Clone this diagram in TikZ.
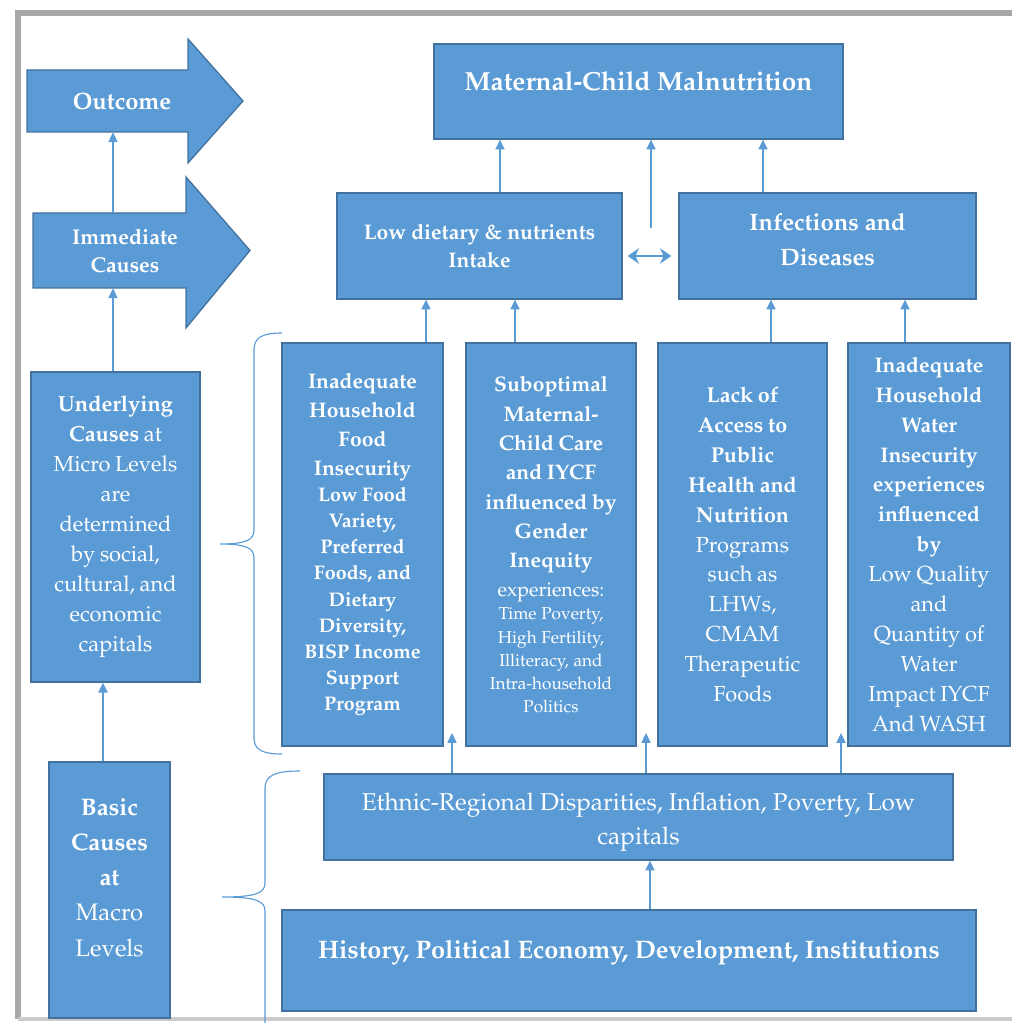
\documentclass[tikz,border=0pt]{standalone}
\usepackage[T1]{fontenc}
\usepackage{mathpazo}
\usepackage{xcolor}
\usetikzlibrary{arrows.meta, calc}

\definecolor{boxblue}{HTML}{5B9BD5}
\definecolor{boxedge}{HTML}{41719C}
\definecolor{frameshade}{HTML}{A8A8A8}

\tikzset{
  cause/.style={draw=boxedge, fill=boxblue, line width=0.9pt, text=white, align=center, inner sep=1pt},
  arrowtext/.style={text=white, align=center, inner sep=0pt},
  link/.style={boxblue, line width=1pt, -{Triangle[length=7pt,width=6.5pt]}},
  brace/.style={boxblue, line width=0.8pt},
}

\begin{document}
\begin{tikzpicture}[x=0.025cm, y=-0.025cm]
  \useasboundingbox (0,0) rectangle (1012,1023);

  % page frame
  \draw[frameshade, line width=4pt] (18,1019) -- (18,13) -- (1012,13);
  \draw[frameshade!60, line width=3pt] (18,1019) -- (1012,1019);

  % level arrows on the left
  \filldraw[draw=boxedge, fill=boxblue, line width=0.9pt]
    (27,70) -- (188,70) -- (188,39) -- (243,101) -- (188,163) -- (188,132) -- (27,132) -- cycle;
  \node[arrowtext, font=\bfseries\fontsize{16.8}{20}\selectfont,
        minimum width=2.6cm, minimum height=1.55cm] (outcome) at (122,101) {Outcome};

  \filldraw[draw=boxedge, fill=boxblue, line width=0.9pt]
    (33,213) -- (186,213) -- (186,177) -- (250,250.5) -- (186,328) -- (186,288) -- (33,288) -- cycle;
  \node[arrowtext, font=\bfseries\fontsize{15.2}{20}\selectfont,
        minimum width=2.7cm, minimum height=1.875cm] (immediate) at (125,250.5) {Immediate\\Causes};

  \node[cause, minimum width=4.225cm, minimum height=7.75cm, text width=4.05cm] (underlying) at (115.5,527)
    {\fontsize{15.5}{21.3}\selectfont\textbf{Underlying}\\ \textbf{Causes} at\\ Micro Levels\\ are\\ determined\\ by social,\\ cultural, and\\ economic\\ capitals\par};

  \node[cause, minimum width=3.025cm, minimum height=6.4cm, text width=2.9cm] (basic) at (109.5,890)
    {\fontsize{17}{25}\selectfont\textbf{Basic}\\ \textbf{Causes}\\ \textbf{at}\\ Macro\\ Levels\rule[-18pt]{0pt}{0pt}\par};

  % outcome and immediate causes
  \node[cause, font=\bfseries\fontsize{18.6}{22}\selectfont, text depth=15pt,
        minimum width=10.225cm, minimum height=2.375cm] (maternal) at (638.5,91.5) {Maternal-Child Malnutrition};
  \node[cause, font=\bfseries\fontsize{15}{20.6}\selectfont,
        minimum width=7.125cm, minimum height=2.65cm] (intake) at (479.5,246) {Low dietary \& nutrients\\Intake};
  \node[cause, font=\bfseries\fontsize{16.9}{25}\selectfont,
        minimum width=7.425cm, minimum height=2.65cm] (infections) at (827.5,246)
    {Infections and\\Diseases\rule[-9pt]{0pt}{0pt}};

  % underlying causes
  \node[cause, minimum width=4.025cm, minimum height=10.075cm, text width=3.85cm] (food) at (362.5,544.5)
    {\bfseries\fontsize{15}{20.6}\selectfont Inadequate\\ Household\\ Food\\ Insecurity\par
     \fontsize{14}{18.6}\selectfont Low Food\\ Variety,\\ Preferred\\ Foods, and\\ Dietary\\ Diversity,\\ BISP Income\\ Support\\ Program\par};
  \node[cause, minimum width=4.25cm, minimum height=10.075cm, text width=4.1cm] (care) at (551,544.5)
    {\bfseries\fontsize{15}{20.9}\selectfont Suboptimal\\ Maternal-\\ Child Care\\ and IYCF\\ influenced by\\ Gender\\ Inequity\par
     \mdseries\fontsize{14}{20.6}\selectfont experiences:\par
     \fontsize{12.2}{16.4}\selectfont Time Poverty,\\ High Fertility,\\ Illiteracy, and\\ Intra-household\\ Politics\par};
  \node[cause, minimum width=4.225cm, minimum height=10.075cm, text width=4.05cm] (health) at (742.5,544.5)
    {\bfseries\fontsize{15.3}{21.3}\selectfont Lack of\\ Access to\\ Public\\ Health and\\ Nutrition\par
     \mdseries\fontsize{15.5}{21.3}\selectfont Programs\\ such as\\ LHWs,\\ CMAM\\ Therapeutic\\ Foods\par};
  \node[cause, minimum width=4.05cm, minimum height=10.075cm, text width=3.9cm] (water) at (929,544.5)
    {\bfseries\fontsize{15}{21.3}\selectfont Inadequate\\ Household\\ Water\\ Insecurity\\ experiences\\ influenced\\ by\par
     \mdseries\fontsize{15.5}{21.3}\selectfont Low Quality\\ and\\ Quantity of\\ Water\\ Impact IYCF\\ And WASH\par};

  % basic causes
  \node[cause, font=\fontsize{17.3}{24}\selectfont,
        minimum width=15.725cm, minimum height=2.15cm] (ethnic) at (638.5,817)
    {\rule{0pt}{19.5pt}Ethnic-Regional Disparities, Inflation, Poverty, Low\\capitals};
  \node[cause, font=\bfseries\fontsize{18}{22}\selectfont, text depth=16pt,
        minimum width=17.35cm, minimum height=2.525cm] (history) at (629,960.5)
    {History, Political Economy, Development, Institutions};

  % links on the left
  \coordinate (lv) at (113,0);
  \coordinate (lb) at (103,0);
  \draw[link] (lv |- immediate.north) -- (lv |- outcome.south);
  \draw[link] (lv |- underlying.north) -- (lv |- immediate.south);
  \draw[link] (lb |- basic.north) -- (lb |- underlying.south);

  % links to the outcome
  \coordinate (ta) at (500,0);
  \coordinate (tb) at (763,0);
  \coordinate (mid) at (651,228);
  \draw[link] (ta |- intake.north) -- (ta |- maternal.south);
  \draw[link] (mid) -- (mid |- maternal.south);
  \draw[link] (tb |- infections.north) -- (tb |- maternal.south);
  \draw[boxblue, line width=1.6pt, {Stealth[length=8pt,width=11pt,inset=2.5pt]}-{Stealth[length=8pt,width=11pt,inset=2.5pt]}]
    ($(intake.east)+(5,10)$) -- ($(infections.west)+(-7,10)$);

  % links to the immediate causes
  \foreach \x/\from/\to in {426/food/intake, 515/care/intake, 771/health/infections, 905/water/infections}{
    \coordinate (up) at (\x,0);
    \draw[link] (up |- \from.north) -- (up |- \to.south);
  }

  % links from the basic causes
  \foreach \x/\n in {452/ea, 646/eb, 841/ec}{
    \coordinate (\n) at (\x,733);
    \draw[link] (\n |- ethnic.north) -- (\n);
  }
  \coordinate (hb) at (650,0);
  \draw[link] (hb |- history.north) -- (hb |- ethnic.south);

  % braces
  \draw[brace] (282,333) .. controls (263,333) and (254,337) .. (254,350) -- (254,530)
    .. controls (254,540) and (246,544) .. (220,544)
    .. controls (246,544) and (254,548) .. (254,558) -- (254,738)
    .. controls (254,750) and (263,754) .. (282,754);
  \draw[brace] (300,771) .. controls (276,771) and (265,775) .. (265,788) -- (265,883)
    .. controls (265,893) and (256,897) .. (222,897)
    .. controls (256,897) and (265,901) .. (265,911) -- (265,1023);
\end{tikzpicture}
\end{document}
